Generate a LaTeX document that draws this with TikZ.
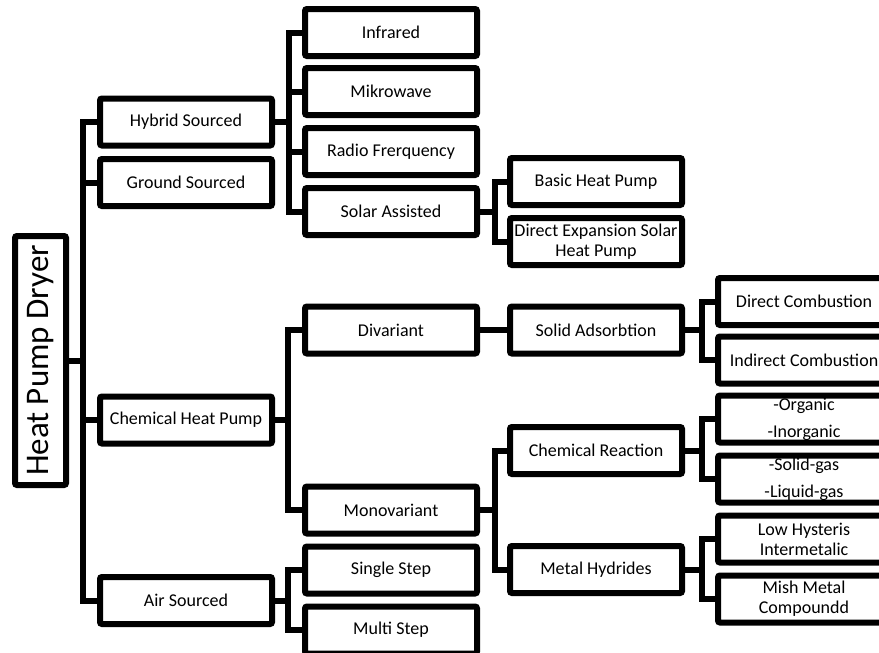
\documentclass[tikz,border=0pt]{standalone}
\usepackage{fontspec}
\setmainfont{Carlito}
\begin{document}
\begin{tikzpicture}[x=1pt,y=-1pt,
  box/.style={draw, line width=6pt, rounded corners=2pt, minimum width=172pt,
    minimum height=47pt, inner sep=0pt, align=center,
    font=\fontsize{18}{20}\selectfont, text=black},
  rootbox/.style={draw, line width=6pt, rounded corners=2pt, minimum width=51pt,
    minimum height=249pt, inner sep=0pt, font=\fontsize{33}{36}\selectfont},
  conn/.style={line width=6pt}]
\useasboundingbox (0,0) rectangle (879,653);
\clip (0,0) rectangle (879,653);
% root
\node[rootbox] (root) at (40.5,360.5) {\rotatebox{90}{Heat Pump Dryer}};
% level 1
\node[box] (hyb) at (186,122) {Hybrid Sourced};
\node[box] (gnd) at (186,182.5) {Ground Sourced};
\node[box] (chp) at (186,420) {Chemical Heat Pump};
\node[box] (air) at (186,600.5) {Air Sourced};
% level 2
\node[box] (ir) at (391,32.5) {Infrared};
\node[box] (mw) at (391,91.5) {Mikrowave};
\node[box] (rf) at (391,151.5) {Radio Frerquency};
\node[box] (sa) at (391,211.5) {Solar Assisted};
\node[box] (div) at (391,330) {Divariant};
\node[box] (mono) at (391,510) {Monovariant};
\node[box] (ss) at (391,570) {Single Step};
\node[box] (ms) at (391,630) {Multi Step};
% level 3
\node[box] (bhp) at (596,181.5) {Basic Heat Pump};
\node[box] (dex) at (596,241.5) {Direct Expansion Solar\\Heat Pump};
\node[box] (sad) at (596,330) {Solid Adsorbtion};
\node[box] (cr) at (596,450.5) {Chemical Reaction};
\node[box] (mh) at (596,569.5) {Metal Hydrides};
% level 4
\node[box] (dc) at (804,301.5) {Direct Combustion};
\node[box] (ic) at (804,360) {Indirect Combustion};
\node[box] (org) at (804,419) {-Organic\\[7pt]-Inorganic};
\node[box] (sg) at (804,479) {-Solid-gas\\[7pt]-Liquid-gas};
\node[box] (low) at (804,539) {Low Hysteris\\Intermetalic};
\node[box] (mish) at (804,599) {Mish Metal\\Compoundd};
% connectors: root
\draw[conn] (hyb.west) -- ++(-14,0) |- (air.west);
\draw[conn] (gnd.west) -- ++(-14,0);
\draw[conn] (chp.west) -- ++(-14,0);
\draw[conn] (root.east) -- ([xshift=-14pt]root.east -| hyb.west);
% hybrid
\draw[conn] (ir.west) -- ++(-13,0) |- (sa.west);
\draw[conn] (mw.west) -- ++(-13,0);
\draw[conn] (rf.west) -- ++(-13,0);
\draw[conn] (hyb.east) -- ([xshift=-13pt]hyb.east -| ir.west);
% solar
\draw[conn] (bhp.west) -- ++(-12,0) |- (dex.west);
\draw[conn] (sa.east) -- ([xshift=-12pt]sa.east -| bhp.west);
% chemical
\draw[conn] (div.west) -- ++(-14,0) |- (mono.west);
\draw[conn] (chp.east) -- ([xshift=-14pt]chp.east -| div.west);
% air
\draw[conn] (ss.west) -- ++(-14,0) |- (ms.west);
\draw[conn] (air.east) -- ([xshift=-14pt]air.east -| ss.west);
% divariant
\draw[conn] (div.east) -- (sad.west);
% monovariant
\draw[conn] (cr.west) -- ++(-12,0) |- (mh.west);
\draw[conn] (mono.east) -- ([xshift=-12pt]mono.east -| cr.west);
% solid adsorbtion
\draw[conn] (dc.west) -- ++(-13,0) |- (ic.west);
\draw[conn] (sad.east) -- ([xshift=-13pt]sad.east -| dc.west);
% chemical reaction
\draw[conn] (org.west) -- ++(-13,0) |- (sg.west);
\draw[conn] (cr.east) -- ([xshift=-13pt]cr.east -| org.west);
% metal hydrides
\draw[conn] (low.west) -- ++(-13,0) |- (mish.west);
\draw[conn] (mh.east) -- ([xshift=-13pt]mh.east -| low.west);
\end{tikzpicture}
\end{document}
